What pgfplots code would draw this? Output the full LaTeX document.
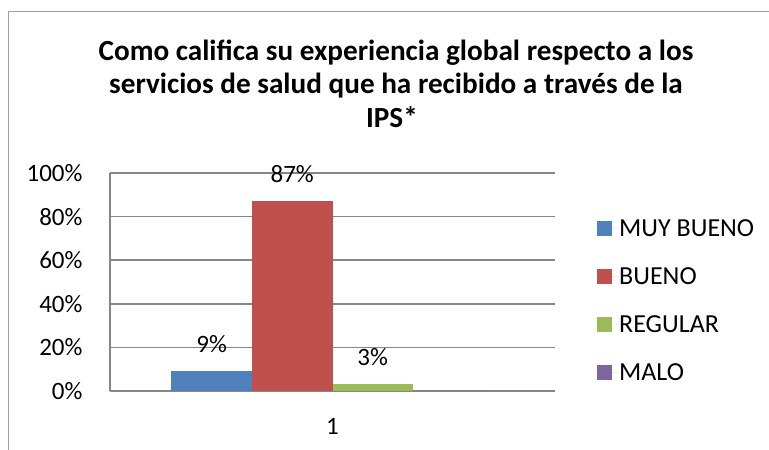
\documentclass[border=0pt]{standalone}
\usepackage{fontspec}
\setmainfont{Carlito}
\usepackage{pgfplots}
\pgfplotsset{compat=1.18}
\definecolor{c1}{HTML}{4F81BD}
\definecolor{c2}{HTML}{C0504D}
\definecolor{c3}{HTML}{9BBB59}
\definecolor{c4}{HTML}{8064A2}
\definecolor{gridc}{HTML}{868686}
\begin{document}
\begin{tikzpicture}[x=1pt,y=1pt]
\useasboundingbox (0,0) rectangle (769,450);
\draw[gridc!80, line width=1pt] (8,0) -- (8,438) -- (769,438);
\fontsize{25}{30}\selectfont
\node[anchor=base, font=\fontsize{29.2}{34}\selectfont\bfseries] at (396,389) {Como califica su experiencia global respecto a los};
\node[anchor=base, font=\fontsize{29.2}{34}\selectfont\bfseries] at (396,356) {servicios de salud que ha recibido a través de la};
\node[anchor=base, font=\fontsize{29.2}{34}\selectfont\bfseries] at (392,322) {IPS*};
\begin{axis}[
  at={(110pt,59pt)}, anchor=south west,
  scale only axis, width=445pt, height=218pt,
  ybar=0pt, bar width=80.5pt,
  xmin=0.5, xmax=1.5, ymin=0, ymax=100,
  xtick={1}, xticklabels={1},
  ytick={0,20,40,60,80,100},
  yticklabel={\pgfmathprintnumber{\tick}\%},
  /pgf/number format/assume math mode=true,
  ymajorgrids, grid style={gridc, line width=1.5pt},
  axis x line*=bottom, axis y line*=left,
  axis line style={gridc, line width=1.5pt},
  major tick length=0pt,
  tick label style={font=\fontsize{25}{30}\selectfont},
  yticklabel style={anchor=east, xshift=-19pt},
  xticklabel style={anchor=base, yshift=-44pt},
  legend style={at={(1.0944,0.787)}, anchor=north west, draw=none, fill=none,
    font=\fontsize{26}{30}\selectfont, row sep=31pt, inner sep=0pt,
    nodes={inner sep=0pt, text height=17pt, text depth=0pt}},
  legend cell align=left,
  legend image code/.code={\fill[#1] (0pt,-7.5pt) rectangle (15pt,7.5pt); \path (0pt,0pt) -- (22pt,0pt);},
  nodes near coords style={font=\fontsize{25}{30}\selectfont, anchor=base, yshift=18.5pt},
]
\addplot[fill=c1, draw=none, nodes near coords={\pgfmathprintnumber{\pgfplotspointmeta}\%}] coordinates {(1,9)};
\addplot[fill=c2, draw=none, nodes near coords={\pgfmathprintnumber{\pgfplotspointmeta}\%}] coordinates {(1,87)};
\addplot[fill=c3, draw=none, nodes near coords={\pgfmathprintnumber{\pgfplotspointmeta}\%}] coordinates {(1,3)};
\addplot[fill=c4, draw=none] coordinates {(1,0)};
\legend{MUY BUENO, BUENO, REGULAR, MALO}
\end{axis}
\end{tikzpicture}
\end{document}
